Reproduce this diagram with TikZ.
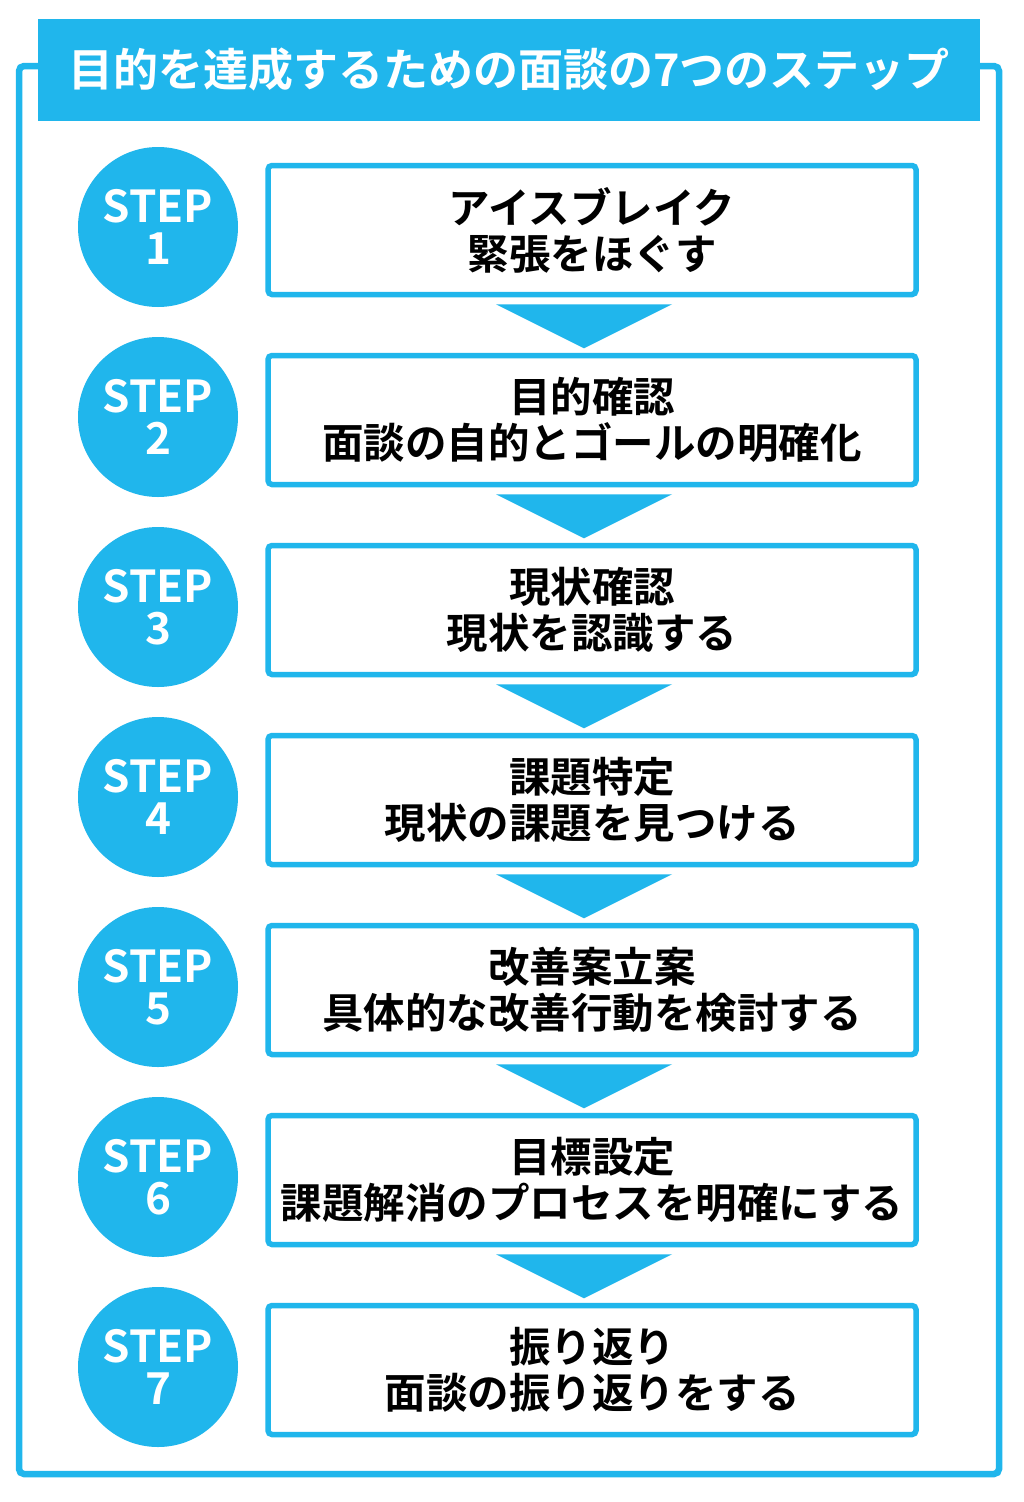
\documentclass[tikz,border=0pt]{standalone}
\usepackage{fontspec}
\setmainfont{Noto Sans CJK JP}[BoldFont={Noto Sans CJK JP Bold}]
\newfontfamily\jpb{Noto Sans CJK JP Bold}
\definecolor{cy}{RGB}{32,182,236}
\begin{document}
\begin{tikzpicture}[x=1pt,y=-1pt,
  frame/.style={draw=cy,line width=6.5pt,rounded corners=5pt},
  header/.style={fill=cy,draw=none,inner sep=0pt,minimum width=942pt,minimum height=102pt,font=\jpb\fontsize{45}{50}\selectfont,text=white},
  stepc/.style={circle,fill=cy,draw=none,minimum size=160pt,inner sep=0pt,text=white,font=\jpb\fontsize{44}{46}\selectfont,align=center},
  stepbox/.style={draw=cy,line width=5.5pt,rounded corners=4pt,fill=white,minimum width=648pt,minimum height=129pt,inner sep=0pt,font=\jpb\fontsize{41.5}{46}\selectfont,align=center},
  tri/.style={fill=cy,draw=none}]
\useasboundingbox (0,0) rectangle (1024,1502);
\fill[white] (0,0) rectangle (1024,1502);
\draw[frame] (19,66) rectangle (999,1474);
\node[header] (title) at (509,69.5) {目的を達成するための面談の7つのステップ};
\foreach \i/\a/\b in {1/アイスブレイク/緊張をほぐす,
  2/目的確認/面談の自的とゴールの明確化,
  3/現状確認/現状を認識する,
  4/課題特定/現状の課題を見つける,
  5/改善案立案/具体的な改善行動を検討する,
  6/目標設定/課題解消のプロセスを明確にする,
  7/振り返り/面談の振り返りをする}{
  \pgfmathsetmacro{\yy}{230+190*(\i-1)}
  \node[stepc] (c\i) at (158,\yy-3) {STEP\\[-4pt]\i};
  \node[stepbox] (b\i) at (592,\yy) {\a\\\b};
}
\foreach \i in {1,...,6}{
  \path (b\i.south) ++(-8,7) coordinate (t\i);
  \fill[tri] (t\i) ++(-88,0) -- ++(176,0) -- ++(-88,44) -- cycle;
}
\end{tikzpicture}
\end{document}
